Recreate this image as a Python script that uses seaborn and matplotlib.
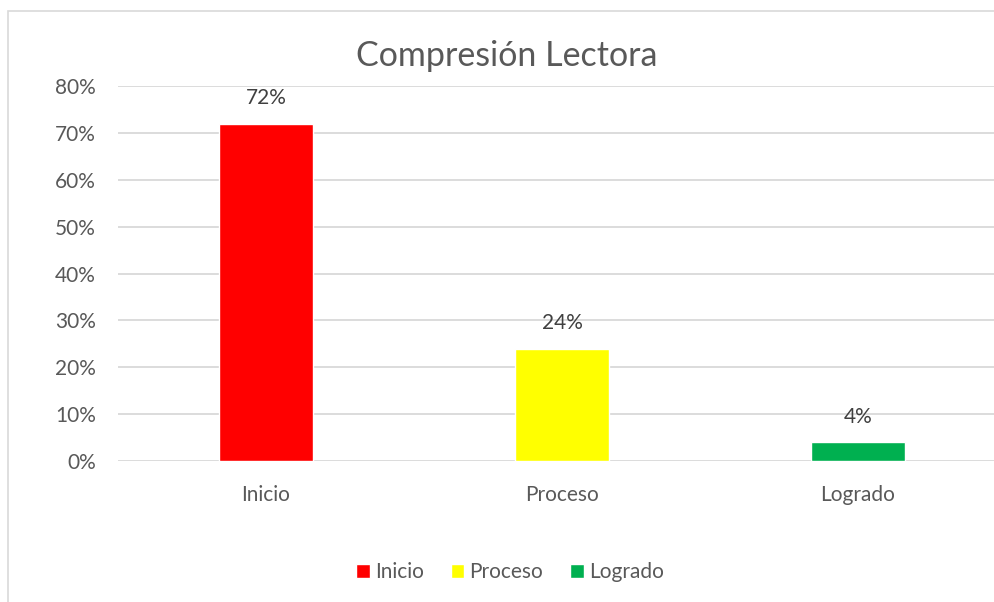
import matplotlib
matplotlib.use("Agg")
import matplotlib.pyplot as plt
import seaborn as sns
import pandas as pd
from matplotlib.patches import Rectangle
from matplotlib.ticker import PercentFormatter

sns.set_theme(style="white")
plt.rcParams['font.family'] = ['Lato', 'DejaVu Sans']

# data
categories = ["Inicio", "Proceso", "Logrado"]
shares = [0.72, 0.24, 0.04]
bar_colors = ["#FF0000", "#FFFF00", "#00B050"]
y_ticks = [0, 0.1, 0.2, 0.3, 0.4, 0.5, 0.6, 0.7, 0.8]

df = pd.DataFrame({"nivel": categories, "valor": shares})
text_col = "#595959"
fs = 15

fig = plt.figure(figsize=(9.94, 6.02), dpi=100)
# plot area runs a little past the right edge, as in the reference
ax = fig.add_axes([118 / 994, 141 / 602, 888 / 994, 375 / 602])

sns.barplot(data=df, x="nivel", y="valor", hue="nivel", palette=bar_colors,
            width=0.315, legend=True, saturation=1, ax=ax, zorder=3)

ax.set_ylim(0, 0.8)
ax.set_xlim(-0.5, 2.5)
ax.set_yticks(y_ticks)
ax.yaxis.set_major_formatter(PercentFormatter(1.0, decimals=0))
ax.grid(axis="y", color="#D9D9D9", linewidth=1.3, zorder=0)
ax.grid(axis="x", visible=False)
for s in ax.spines.values():
    s.set_visible(False)
ax.set_xlabel("")
ax.set_ylabel("")
ax.tick_params(axis="y", labelsize=fs, labelcolor=text_col, pad=16, length=0)
ax.tick_params(axis="x", labelsize=fs, labelcolor=text_col, pad=17, length=0)

for cont in ax.containers:
    ax.bar_label(cont, labels=[f"{v:.0%}" for v in cont.datavalues],
                 padding=11, fontsize=fs, color="#404040")

ax.legend(loc="center", bbox_to_anchor=(510 / 994, 1 - 572 / 602),
          bbox_transform=fig.transFigure, ncol=3, frameon=False,
          handlelength=0.65, handleheight=0.65, handletextpad=0.25,
          columnspacing=1.3, fontsize=fs, labelcolor=text_col)

fig.text(507 / 994, 1 - 56 / 602, "Compresión Lectora", ha="center", va="center",
         fontsize=24.5, color=text_col)

# chart frame border (left and top visible)
fig.add_artist(Rectangle((8 / 994, -0.1), 1.2, (602 - 11) / 602 + 0.1,
                         transform=fig.transFigure, fill=False,
                         edgecolor="#D9D9D9", linewidth=1.2))

fig.savefig("out.png", dpi=100)
